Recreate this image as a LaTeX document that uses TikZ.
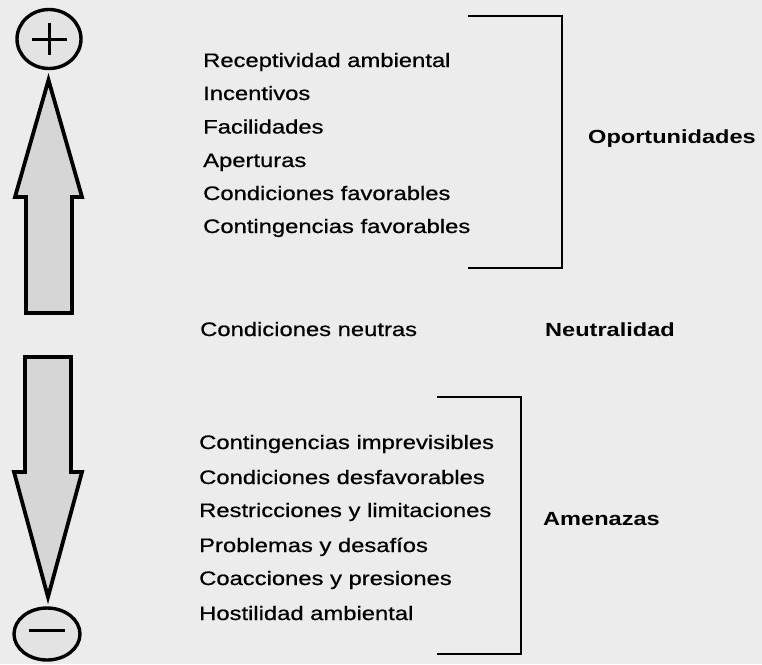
\documentclass[tikz,border=0pt]{standalone}
\usepackage{fontspec}
\setmainfont{Liberation Sans}[FakeStretch=1.24]
\newfontfamily\itemfont{Liberation Sans}[FakeStretch=1.22,FakeBold=0.7]
\begin{document}
\begin{tikzpicture}[x=1pt,y=-1pt,
  item/.style={anchor=base west,inner sep=0pt,font=\itemfont\fontsize{19.5}{20}\selectfont},
  group/.style={anchor=base west,inner sep=0pt,font=\fontsize{19}{20}\selectfont\bfseries},
  arrowshape/.style={draw=black,line width=3.8pt,fill=gray!32,line join=miter},
  sign/.style={draw=black,line width=3.4pt,fill=gray!22},
  bracket/.style={draw=black,line width=2.6pt}]
\useasboundingbox (0,0) rectangle (762,664);
\fill[gray!15] (0,0) rectangle (762,664);
% plus circle
\draw[sign] (49,39) ellipse [x radius=32, y radius=29.5];
\draw[line width=3pt] (32,39) -- (67,39) (49,23) -- (49,55);
% up arrow
\draw[arrowshape] (26,313) -- (26,197) -- (15,197) -- (48.5,80) -- (82,197) -- (72,197) -- (72,313) -- cycle;
% down arrow
\draw[arrowshape] (25,357) -- (71,357) -- (71,472) -- (82,472) -- (48,597) -- (14,472) -- (25,472) -- cycle;
% minus circle
\draw[sign] (47,634) ellipse [x radius=33, y radius=26];
\draw[line width=3pt] (29,630) -- (65,630);
% upper items
\node[item] (u1) at (203,67) {Receptividad ambiental};
\node[item] (u2) at (203,100) {Incentivos};
\node[item] (u3) at (203,133.5) {Facilidades};
\node[item] (u4) at (203,167) {Aperturas};
\node[item] (u5) at (203,200) {Condiciones favorables};
\node[item] (u6) at (203,233) {Contingencias favorables};
\coordinate (ua) at (468,16);
\coordinate (ub) at (562,16);
\coordinate (uc) at (562,268);
\coordinate (ud) at (468,268);
\draw[bracket] (ua) -- (ub) -- (uc) -- (ud);
\node[group] (op) at (588,143) {Oportunidades};
% neutral
\node[item] (n1) at (200,336) {Condiciones neutras};
\node[group] (ne) at (545,336) {Neutralidad};
% lower items
\node[item] (l1) at (199,449) {Contingencias imprevisibles};
\node[item] (l2) at (199,484) {Condiciones desfavorables};
\node[item] (l3) at (199,517) {Restricciones y limitaciones};
\node[item] (l4) at (199,552) {Problemas y desafíos};
\node[item] (l5) at (199,585) {Coacciones y presiones};
\node[item] (l6) at (199,620) {Hostilidad ambiental};
\coordinate (la) at (437,397);
\coordinate (lb) at (521,397);
\coordinate (lc) at (521,654);
\coordinate (ld) at (437,654);
\draw[bracket] (la) -- (lb) -- (lc) -- (ld);
\node[group] (am) at (543,525) {Amenazas};
\end{tikzpicture}
\end{document}
